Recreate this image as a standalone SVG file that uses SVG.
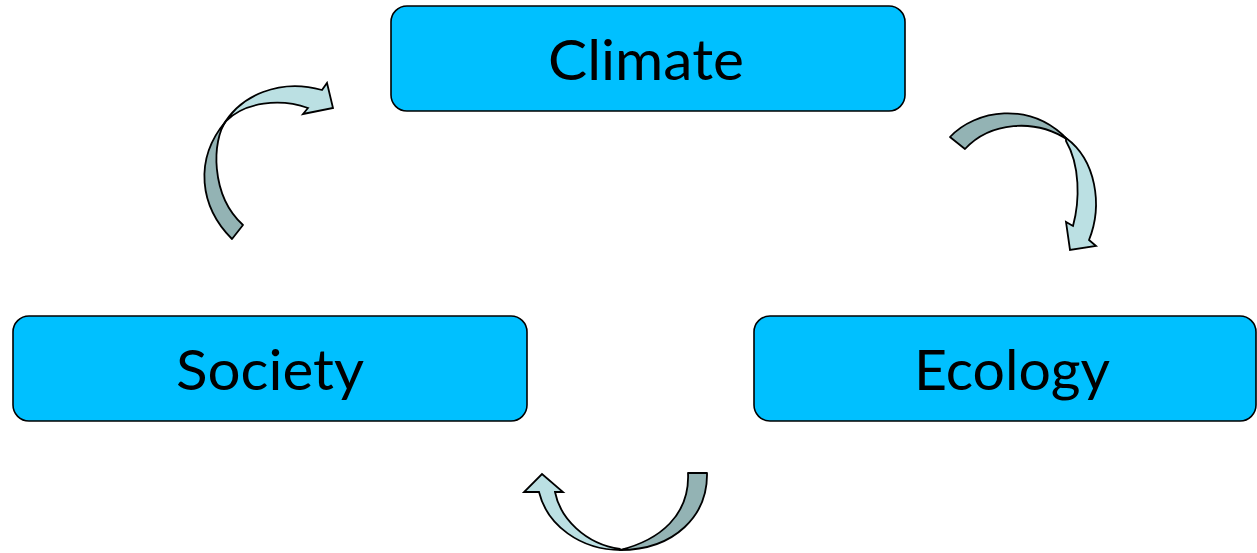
<svg xmlns="http://www.w3.org/2000/svg" width="1257" height="553" viewBox="0 0 1257 553">
<style>
.box{fill:#00C0FF;stroke:#000;stroke-width:1.6}
.lbl{font-family:Lato,"Open Sans",sans-serif;font-size:57px;fill:#000;text-anchor:middle}
.back{fill:#93B3B4;stroke:#000;stroke-width:1.8;stroke-linejoin:round}
.front{fill:#BBE0E3;stroke:#000;stroke-width:1.8;stroke-linejoin:miter}
</style>
<rect width="1257" height="553" fill="#fff"/>
<g id="climate">
<rect class="box" x="391" y="6" width="514" height="105" rx="16"/>
<text class="lbl" x="646" y="80" textLength="196" lengthAdjust="spacingAndGlyphs">Climate</text>
</g>
<g id="society">
<rect class="box" x="13" y="316" width="514" height="105" rx="16"/>
<text class="lbl" x="270" y="390" textLength="188" lengthAdjust="spacingAndGlyphs">Society</text>
</g>
<g id="ecology">
<rect class="box" x="754" y="316" width="502" height="105" rx="16"/>
<text class="lbl" x="1012" y="390" textLength="196" lengthAdjust="spacingAndGlyphs">Ecology</text>
</g>
<g id="connectors">
<g id="society-to-climate">
<path class="back" d="M232,239 C200,207 193,160 226,121 C212,140 210,195 243,225 Z"/>
<path class="front" d="M222,127 C240,95 280,78 322,90 L327,83 L333,108 L303,114 L308,108 C280,98 245,102 226,121 Z"/>
</g>
<g id="climate-to-ecology">
<path class="back" d="M950,137 C975,110 1030,100 1068,140 C1035,118 990,122 965,149 Z"/>
<path class="front" d="M1066,138 C1096,160 1103,205 1089,240 L1096,246 L1070,250 L1066,222 L1073,226 C1080,200 1080,165 1066,141 Z"/>
</g>
<g id="ecology-to-society">
<path class="back" d="M707,473 C708,515 675,550 620,550 C660,540 690,515 688,473 Z"/>
<path class="front" d="M621,550 C580,550 547,525 539,492 L524,492 L542,474 L563,492 L555,492 C560,518 585,544 620,549 Z"/>
</g>
</g>
</svg>
